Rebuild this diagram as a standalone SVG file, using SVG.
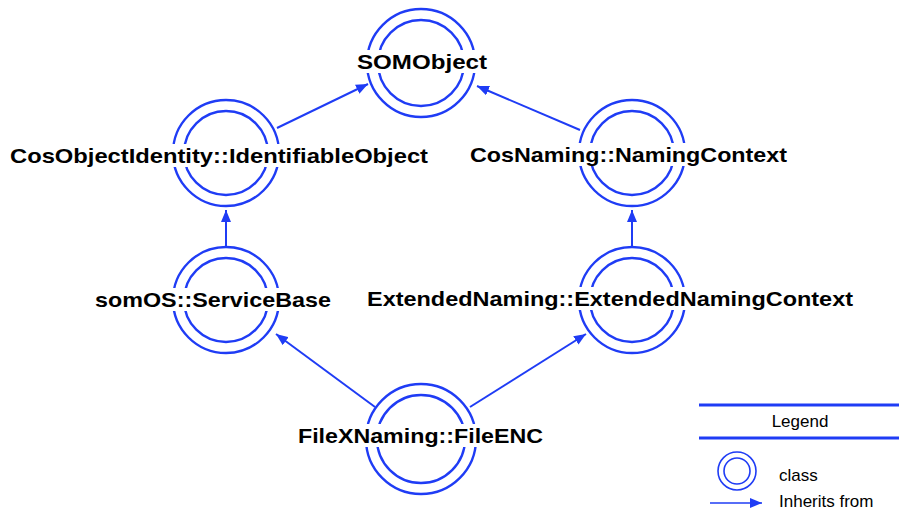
<svg xmlns="http://www.w3.org/2000/svg" width="899" height="512" viewBox="0 0 899 512">
<defs>
<marker id="arr" viewBox="0 0 12 10" refX="12" refY="5" markerWidth="12" markerHeight="10" markerUnits="userSpaceOnUse" orient="auto">
<path d="M0,0 L12,5 L0,10 z" fill="#1f3cf5"/>
</marker>
</defs>
<style>
.ring{fill:none;stroke:#1f3cf5;stroke-width:2.4}
.bg{fill:#fff}
.lbl{font-family:"Liberation Sans",Arial,sans-serif;font-weight:bold;font-size:21px;fill:#000}
.edge{stroke:#1f3cf5;stroke-width:2;fill:none;marker-end:url(#arr)}
.leg{font-family:"Liberation Sans",Arial,sans-serif;font-size:17px;fill:#000}
</style>
<rect width="899" height="512" fill="#fff"/>
<g id="connectors">
<line class="edge" x1="277" y1="128" x2="368" y2="84"/>
<line class="edge" x1="580" y1="130" x2="477" y2="86"/>
<line class="edge" x1="226" y1="247" x2="226" y2="210"/>
<line class="edge" x1="632" y1="247" x2="632" y2="210"/>
<line class="edge" x1="375" y1="407" x2="276" y2="334"/>
<line class="edge" x1="470" y1="407" x2="586" y2="334"/>
</g>
<g id="SOMObject">
<circle class="ring" cx="421" cy="63" r="54"/>
<circle class="ring" cx="421" cy="63" r="43"/>
<rect class="bg" x="355" y="50" width="134" height="23"/>
<text class="lbl" x="357" y="69" textLength="130" lengthAdjust="spacingAndGlyphs">SOMObject</text>
</g>
<g id="CosObjectIdentity">
<circle class="ring" cx="226" cy="153" r="53"/>
<circle class="ring" cx="226" cy="153" r="42"/>
<rect class="bg" x="8" y="144" width="422" height="23"/>
<text class="lbl" x="10" y="163" textLength="418" lengthAdjust="spacingAndGlyphs">CosObjectIdentity::IdentifiableObject</text>
</g>
<g id="CosNaming">
<circle class="ring" cx="632" cy="153" r="53"/>
<circle class="ring" cx="632" cy="153" r="42"/>
<rect class="bg" x="468" y="143" width="321" height="23"/>
<text class="lbl" x="470" y="162" textLength="317" lengthAdjust="spacingAndGlyphs">CosNaming::NamingContext</text>
</g>
<g id="somOS">
<circle class="ring" cx="226" cy="300" r="53"/>
<circle class="ring" cx="226" cy="300" r="42"/>
<rect class="bg" x="93" y="288" width="240" height="23"/>
<text class="lbl" x="95" y="307" textLength="236" lengthAdjust="spacingAndGlyphs">somOS::ServiceBase</text>
</g>
<g id="ExtendedNaming">
<circle class="ring" cx="632" cy="300" r="53"/>
<circle class="ring" cx="632" cy="300" r="42"/>
<rect class="bg" x="365" y="287" width="490" height="23"/>
<text class="lbl" x="367" y="306" textLength="486" lengthAdjust="spacingAndGlyphs">ExtendedNaming::ExtendedNamingContext</text>
</g>
<g id="FileENC">
<circle class="ring" cx="421" cy="439" r="55"/>
<circle class="ring" cx="421" cy="439" r="44"/>
<rect class="bg" x="296" y="424" width="249" height="23"/>
<text class="lbl" x="298" y="443" textLength="245" lengthAdjust="spacingAndGlyphs">FileXNaming::FileENC</text>
</g>
<g id="legend">
<line x1="699" y1="405" x2="899" y2="405" stroke="#1f3cf5" stroke-width="3"/>
<line x1="699" y1="438" x2="899" y2="438" stroke="#1f3cf5" stroke-width="3"/>
<text class="leg" x="800" y="427" text-anchor="middle">Legend</text>
<circle cx="737" cy="471" r="19" fill="none" stroke="#1f3cf5" stroke-width="1.6"/>
<circle cx="737" cy="471" r="13" fill="none" stroke="#1f3cf5" stroke-width="1.6"/>
<text class="leg" x="779" y="481">class</text>
<line x1="710" y1="503" x2="762" y2="503" stroke="#1f3cf5" stroke-width="1.6" marker-end="url(#arr)"/>
<text class="leg" x="779" y="507">Inherits from</text>
</g>
</svg>
